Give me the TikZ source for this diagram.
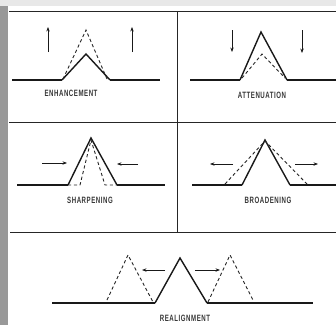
\documentclass[tikz,border=0pt]{standalone}
\usepackage{graphicx}
\usepackage{fontspec}
\setmainfont{Liberation Sans}
\newfontfamily\capfont[LetterSpace=9]{Liberation Sans}
\usetikzlibrary{calc, positioning}
\usetikzlibrary{arrows.meta}

\begin{document}
\begin{tikzpicture}[x=1pt,y=-1pt,
    frame/.style={line width=0.9pt,black!85},
    base/.style={line width=1.4pt,black!90},
    peak/.style={line width=1.4pt,black!90,line join=miter},
    ghost/.style={line width=0.9pt,black!85,dash pattern=on 3.2pt off 2.6pt},
    movearrow/.style={line width=0.9pt,black!90,-{Stealth[length=4.5pt,width=3.4pt]}},
    caption/.style={font=\capfont\fontsize{6.1}{7}\selectfont\bfseries,inner sep=0pt,black!78}]
\useasboundingbox (0,0) rectangle (336,325);
\fill[white] (0,0) rectangle (336,325);
\fill[gray!18] (0,0) rectangle (336,6);
\fill[gray!80] (0,6) rectangle (8,325);

% panel frame
\coordinate (TL) at (9,11);
\coordinate (TR) at (336,11);
\coordinate (ML) at (9,122);
\coordinate (MR) at (336,122);
\coordinate (BL) at (10,232);
\coordinate (BR) at (336,232);
\draw[frame] (TL) -- (TR);
\draw[frame] (ML) -- (MR);
\draw[frame] (BL) -- (BR);
\draw[frame] (177,11) -- (177,232);

% enhancement
\draw[base] (12,80) -- (62,80);
\draw[base] (110,80) -- (160,80);
\draw[peak] (62,80) -- (86,54) -- (110,80);
\draw[ghost] (63,79) -- (86,30) -- (107,79);
\draw[movearrow] (48,52) -- (48,27);
\draw[movearrow] (132,52) -- (132,27);
\node[caption] (enh) at (71,93) {\scalebox{1}[1.5]{ENHANCEMENT}};

% attenuation
\draw[base] (190,80) -- (240,80);
\draw[base] (287,80) -- (336,80);
\draw[peak] (240,80) -- (261,32) -- (287,80);
\draw[ghost] (242,78) -- (262,54) -- (285,78);
\draw[movearrow] (232,30) -- (232,52);
\draw[movearrow] (302,30) -- (302,53);
\node[caption] (att) at (262,95) {\scalebox{1}[1.5]{ATTENUATION}};

% sharpening
\draw[base] (17,185) -- (68,185);
\draw[base] (117,185) -- (165,185);
\draw[peak] (68,185) -- (91,138) -- (117,185);
\draw[ghost] (68,185) -- (80,185) -- (91,140) -- (105,185) -- (117,185);
\draw[movearrow] (42,163) -- (67,163);
\draw[movearrow] (138,164) -- (117,164);
\node[caption] (shp) at (90,200) {\scalebox{1}[1.5]{SHARPENING}};

% broadening
\draw[base] (192,185) -- (242,185);
\draw[base] (290,185) -- (336,185);
\draw[peak] (242,185) -- (265,140) -- (290,185);
\draw[ghost] (225,184) -- (265,141) -- (307,184);
\draw[movearrow] (233,164) -- (210,164);
\draw[movearrow] (295,164) -- (318,164);
\node[caption] (brd) at (268,200) {\scalebox{1}[1.5]{BROADENING}};

% realignment
\draw[base] (52,303) -- (155,303);
\draw[base] (207,303) -- (313,303);
\draw[peak] (155,303) -- (180,258) -- (207,303);
\draw[ghost] (107,300) -- (128,255) -- (153,302);
\draw[ghost] (208,302) -- (230,255) -- (253,300);
\draw[movearrow] (165,270) -- (142,270);
\draw[movearrow] (195,270) -- (220,270);
\node[caption] (rea) at (185,318) {\scalebox{1}[1.5]{REALIGNMENT}};
\end{tikzpicture}
\end{document}
